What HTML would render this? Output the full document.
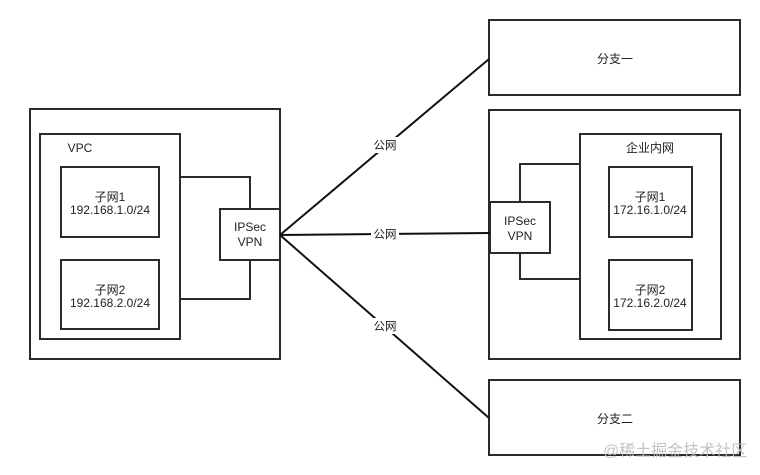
<!DOCTYPE html>
<html>
<head>
<meta charset="utf-8">
<style>
  html, body { margin: 0; padding: 0; background: #fff; }
  svg { display: block; }
  text { font-family: "Liberation Sans", "Noto Sans CJK SC", sans-serif; fill: #222; }
</style>
</head>
<body>
<svg width="760" height="475" viewBox="0 0 760 475" xmlns="http://www.w3.org/2000/svg">
  <rect x="0" y="0" width="760" height="475" fill="#fff"/>
  <g fill="none" stroke="#2b2b2b" stroke-width="2">
    <!-- Left side -->
    <rect x="30" y="109" width="250" height="250"/>
    <rect x="40" y="134" width="140" height="205"/>
    <rect x="61" y="167" width="98" height="70"/>
    <rect x="61" y="260" width="98" height="69"/>
    <rect x="220" y="209" width="60" height="51"/>
    <polyline points="180,177 250,177 250,209"/>
    <polyline points="180,299 250,299 250,260"/>

    <!-- Right side -->
    <rect x="489" y="20" width="251" height="75"/>
    <rect x="489" y="110" width="251" height="249"/>
    <rect x="580" y="134" width="141" height="205"/>
    <rect x="609" y="167" width="83" height="70"/>
    <rect x="609" y="260" width="83" height="70"/>
    <rect x="490" y="202" width="60" height="51"/>
    <polyline points="520,202 520,164 580,164"/>
    <polyline points="520,253 520,279 580,279"/>
    <rect x="489" y="380" width="251" height="75"/>
  </g>

  <!-- Connectors -->
  <g stroke="#111" stroke-width="2" fill="none">
    <line x1="280" y1="235" x2="489" y2="59"/>
    <line x1="280" y1="235" x2="490" y2="233"/>
    <line x1="280" y1="235" x2="489" y2="418"/>
  </g>

  <!-- Label backgrounds -->
  <rect x="371" y="137" width="28" height="16" fill="#fff"/>
  <rect x="371" y="226" width="28" height="16" fill="#fff"/>
  <rect x="371" y="318" width="28" height="16" fill="#fff"/>

  <g font-size="11.5" text-anchor="middle">
    <text x="385" y="149">公网</text>
    <text x="385" y="238">公网</text>
    <text x="385" y="330">公网</text>
  </g>

  <g font-size="12" text-anchor="middle">
    <text x="80" y="152">VPC</text>
    <text x="110" y="201">子网1</text>
    <text x="110" y="214">192.168.1.0/24</text>
    <text x="110" y="294">子网2</text>
    <text x="110" y="307">192.168.2.0/24</text>
    <text x="250" y="231">IPSec</text>
    <text x="250" y="246">VPN</text>

    <text x="615" y="63">分支一</text>
    <text x="650" y="152">企业内网</text>
    <text x="650" y="201">子网1</text>
    <text x="650" y="214">172.16.1.0/24</text>
    <text x="650" y="294">子网2</text>
    <text x="650" y="307">172.16.2.0/24</text>
    <text x="520" y="225">IPSec</text>
    <text x="520" y="240">VPN</text>
    <text x="615" y="423">分支二</text>
  </g>

  <text x="603" y="456" font-size="16" style="fill:#bdbdbd" opacity="0.9">@稀土掘金技术社区</text>
</svg>
</body>
</html>
